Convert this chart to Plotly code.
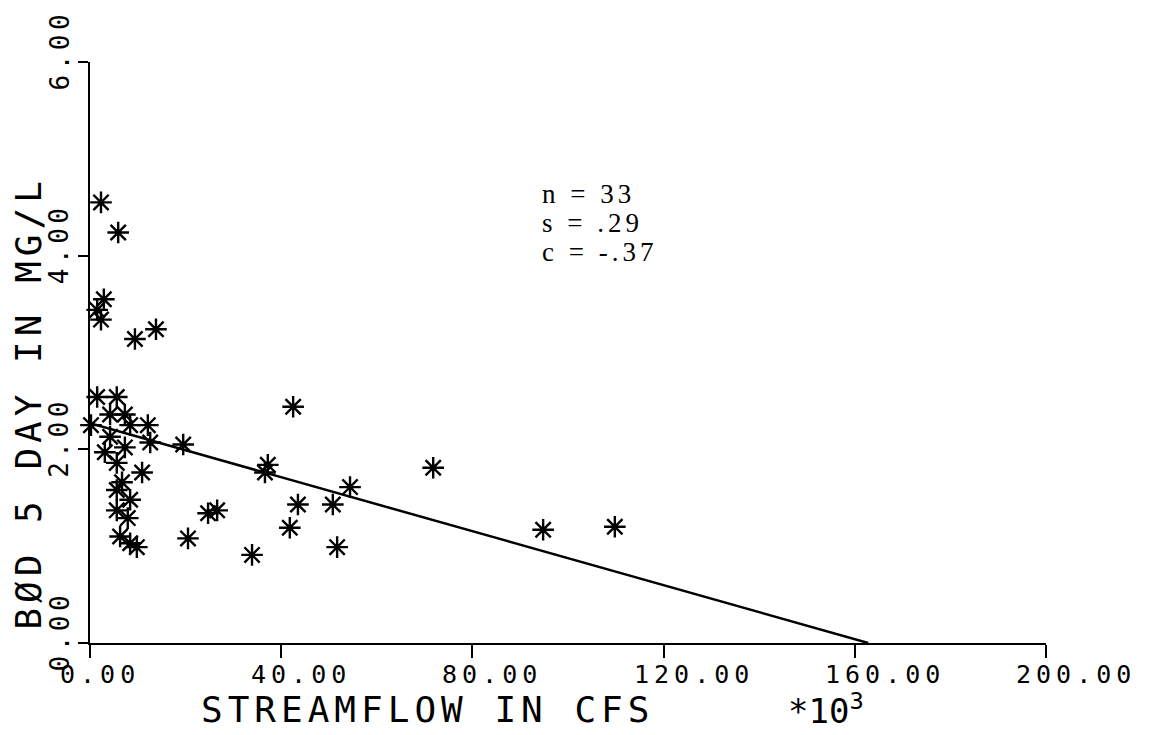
import plotly.graph_objects as go

# Data (streamflow in 10^3 cfs, BOD5 in mg/L)
flow_k = [2.3, 5.9, 2.9, 1.5, 2.3, 9.4, 13.8, 1.5, 5.6, 4.2, 7.3, 8.4, 12.1, 0.2,
          4.2, 12.6, 3.1, 7.3, 5.6, 10.9, 6.7, 5.6, 8.4, 5.6, 7.9, 6.3, 8.4, 9.8,
          19.5, 42.5, 36.6, 37.2, 24.7, 26.6, 20.5, 33.9, 43.5, 50.8, 41.8, 54.4,
          51.7, 71.8, 94.8, 109.8]
bod = [4.55, 4.24, 3.55, 3.44, 3.34, 3.14, 3.24, 2.54, 2.54, 2.36, 2.36, 2.25, 2.25, 2.25,
       2.13, 2.07, 1.97, 2.02, 1.86, 1.76, 1.66, 1.58, 1.48, 1.37, 1.29, 1.10, 1.03, 0.99,
       2.05, 2.44, 1.76, 1.84, 1.34, 1.37, 1.08, 0.91, 1.43, 1.43, 1.19, 1.61,
       0.99, 1.81, 1.17, 1.20]

fit_x = [0, 162.8]
fit_y = [2.27, 0.0]

x_ticks = [0, 40, 80, 120, 160, 200]
x_tick_labels = ["0.00", "40.00", "80.00", "120.00", "160.00", "200.00"]
y_ticks = [0, 2, 4, 6]
y_tick_labels = ["0.00", "2.00", "4.00", "6.00"]
stats_lines = ["n = 33", "s = .29", "c = -.37"]

PLOT_FONT = "DejaVu Sans Mono"


def spaced(t, px):
    return f'<span style="letter-spacing:{px}px">{t}</span>'


fig = go.Figure()
fig.add_trace(go.Scatter(x=fit_x, y=fit_y, mode="lines",
                         line=dict(color="black", width=2.5), showlegend=False))
fig.add_trace(go.Scatter(x=flow_k, y=bod, mode="markers", cliponaxis=False,
                         marker=dict(symbol="asterisk-open", size=18, color="black",
                                     line=dict(color="black", width=2.4)),
                         showlegend=False))

ann = []
for v, t in zip(x_ticks, x_tick_labels):
    ann.append(dict(x=v, y=0, xref="x", yref="paper", text=spaced(t, 5),
                    xanchor="left", yanchor="middle", xshift=-32, yshift=-31,
                    showarrow=False, font=dict(family=PLOT_FONT, size=25, color="black")))
for v, t in zip(y_ticks, y_tick_labels):
    ann.append(dict(x=0, y=v, xref="paper", yref="y", text=spaced(t, 4.5),
                    textangle=-90, xanchor="center", yanchor="bottom",
                    xshift=-31, yshift=-31,
                    showarrow=False, font=dict(family=PLOT_FONT, size=26, color="black")))

# axis titles
ann.append(dict(x=0.353, y=0, xref="paper", yref="paper",
                text=spaced("STREAMFLOW IN CFS", 5),
                xanchor="center", yanchor="middle", yshift=-66, showarrow=False,
                font=dict(family=PLOT_FONT, size=36, color="black")))
ann.append(dict(x=0.77, y=0, xref="paper", yref="paper",
                text="*10<sup>3</sup>",
                xanchor="center", yanchor="middle", yshift=-66, showarrow=False,
                font=dict(family=PLOT_FONT, size=34, color="black")))
ann.append(dict(x=0, y=0.412, xref="paper", yref="paper",
                text=spaced("BØD 5 DAY IN MG/L", 5),
                textangle=-90, xanchor="center", yanchor="middle", xshift=-61,
                showarrow=False, font=dict(family=PLOT_FONT, size=36, color="black")))

# statistics block
for i, line in enumerate(stats_lines):
    ann.append(dict(x=0, y=1, xref="paper", yref="paper", text=spaced(line, 4),
                    xanchor="left", yanchor="middle", xshift=450, yshift=-(132 + 29 * i),
                    showarrow=False,
                    font=dict(family="Liberation Serif", size=27, color="black")))

# the page body has an 8px margin, so the margins are offset to land the plot area
fig.update_layout(
    width=1156, height=735, autosize=False,
    margin=dict(l=82, r=118, t=54, b=100),
    paper_bgcolor="white", plot_bgcolor="white",
    annotations=ann,
    xaxis=dict(range=[0, 200], tickvals=x_ticks, showticklabels=False,
               ticks="outside", ticklen=13, tickwidth=2, tickcolor="black",
               showline=True, linecolor="black", linewidth=2,
               showgrid=False, zeroline=False),
    yaxis=dict(range=[0, 6], tickvals=y_ticks, showticklabels=False,
               ticks="outside", ticklen=10, tickwidth=2, tickcolor="black",
               showline=True, linecolor="black", linewidth=2,
               showgrid=False, zeroline=False),
)

fig.write_html("out.html")
